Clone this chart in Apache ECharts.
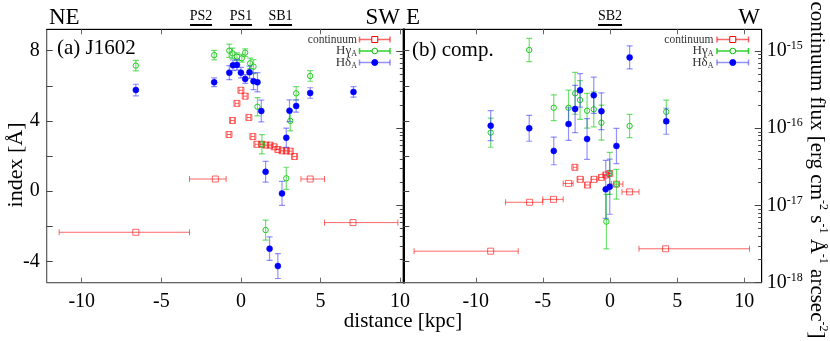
<!DOCTYPE html>
<html>
<head>
<meta charset="UTF-8">
<title>index vs distance</title>
<style type="text/css">
  html, body { margin: 0; padding: 0; background: #fff; }
  #main { width: 830px; height: 341px; }
</style>
</head>
<body>
<div id="main"></div>
<script src="https://cdn.jsdelivr.net/npm/echarts@6/dist/echarts.min.js"></script>
<script type="text/javascript">
// ---- (a) J1602 ----
var aContX   = [-6.60, -1.61, -0.75, -0.53, -0.25, 0.00, 0.27, 0.50, 0.75, 1.00, 1.32, 1.57, 1.84, 2.09, 2.32, 2.58, 2.85, 3.10, 3.37, 4.35, 7.04];
var aContXlo = [-11.42, -3.23, -0.87, -0.65, -0.37, -0.12, 0.15, 0.38, 0.63, 0.88, 1.20, 1.45, 1.72, 1.97, 2.20, 2.46, 2.73, 2.98, 3.25, 3.77, 5.25];
var aContXhi = [-3.23, -0.93, -0.63, -0.41, -0.13, 0.12, 0.39, 0.62, 0.87, 1.12, 1.44, 1.69, 1.96, 2.21, 2.44, 2.70, 2.97, 3.22, 3.49, 5.25, 9.86];
var aContF   = [4.5e-18, 2.2e-17, 8.3e-17, 1.26e-16, 2.1e-16, 3.1e-16, 2.6e-16, 1.38e-16, 7.8e-17, 6.2e-17, 6.2e-17, 6.05e-17, 6.05e-17, 5.75e-17, 5.3e-17, 5.1e-17, 5.1e-17, 5.05e-17, 4.3e-17, 2.2e-17, 6.0e-18];

var aGamX = [-6.60, -1.68, -0.73, -0.53, -0.25, 0.06, 0.27, 0.58, 0.79, 1.04, 1.32, 1.55, 2.85, 3.10, 3.47, 4.35];
var aGamY = [7.15, 7.75, 8.00, 7.85, 7.66, 7.57, 7.89, 7.28, 7.09, 4.81, 2.67, -2.22, 0.73, 4.00, 5.57, 6.56];
var aGamE = [0.30, 0.27, 0.38, 0.30, 0.22, 0.22, 0.22, 0.30, 0.40, 0.52, 0.55, 0.57, 0.63, 0.57, 0.38, 0.30];

var aDelX = [-6.60, -1.68, -0.73, -0.50, -0.25, 0.00, 0.27, 0.54, 0.79, 1.04, 1.28, 1.55, 1.80, 2.32, 2.58, 2.85, 3.05, 3.47, 4.35, 7.07];
var aDelY = [5.76, 6.20, 6.75, 7.17, 7.19, 6.75, 6.39, 6.77, 6.26, 6.20, 4.56, 1.10, -3.28, -4.27, -0.13, 3.04, 4.58, 4.85, 5.59, 5.65];
var aDelE = [0.33, 0.25, 0.40, 0.30, 0.30, 0.30, 0.25, 0.35, 0.48, 0.55, 0.62, 0.59, 0.67, 0.71, 0.68, 0.55, 0.62, 0.35, 0.30, 0.30];

// ---- (b) comp. ----
var bContX   = [-8.89, -5.99, -4.21, -3.09, -2.62, -2.23, -1.68, -1.19, -0.64, -0.32, -0.02, 0.48, 1.46, 4.14];
var bContXlo = [-14.60, -7.78, -5.01, -3.49, -2.75, -2.40, -1.85, -1.40, -0.82, -0.48, -0.15, 0.10, 0.89, 2.16];
var bContXhi = [-6.84, -5.01, -3.49, -2.75, -2.48, -2.00, -1.50, -0.98, -0.45, -0.15, 0.10, 0.96, 2.16, 10.39];
var bContF   = [2.56e-18, 1.10e-17, 1.20e-17, 1.93e-17, 3.12e-17, 2.18e-17, 1.84e-17, 2.18e-17, 2.31e-17, 2.48e-17, 2.60e-17, 1.89e-17, 1.50e-17, 2.75e-18];

var bGamX = [-8.89, -6.02, -4.19, -3.09, -2.60, -2.23, -1.71, -1.21, -0.64, -0.27, -0.02, 0.48, 1.46, 4.19];
var bGamY = [3.33, 8.04, 4.75, 4.75, 5.57, 5.19, 4.58, 4.66, 3.90, -1.74, 1.01, 0.39, 3.71, 4.52];
var bGamE = [0.83, 0.66, 0.73, 1.00, 1.19, 1.10, 0.99, 1.00, 1.00, 1.55, 1.20, 0.85, 0.66, 0.66];

var bDelX = [-8.89, -6.02, -4.19, -3.09, -2.60, -2.23, -1.71, -1.21, -0.64, -0.32, -0.02, 0.48, 1.46, 4.19];
var bDelY = [3.73, 3.58, 2.29, 3.82, 4.68, 5.74, 2.97, 5.46, 4.55, 0.10, 0.25, 2.57, 7.62, 3.98];
var bDelE = [0.85, 0.74, 0.79, 0.93, 1.35, 0.95, 1.16, 1.03, 1.05, 1.65, 1.57, 1.00, 0.66, 0.74];

// ticks
var xTicks = [-10, -5, 0, 5, 10];
var idxLabels = [-4, 0, 4, 8];
var idxTicks = [-4, -2, 0, 2, 4, 6, 8];
var fluxLabels = [1e-18, 1e-17, 1e-16, 1e-15];
var fluxMinor = [];
for (var e = -18; e <= -16; e++) {
  for (var k = 2; k <= 9; k++) fluxMinor.push(k * Math.pow(10, e));
}

var SERIF = "'Liberation Serif','DejaVu Serif',serif";
var RED = 'rgba(255,0,0,0.6)', GREEN = 'rgba(0,200,0,0.55)', BLUE = 'rgba(40,40,255,0.5)';

function zip(a, b, c, d) {
  return a.map(function (v, i) { return d ? [v, b[i], c[i], d[i]] : [v, b[i], c[i]]; });
}

// error bar + marker drawing
function drawCont(params, api) {
  var x = api.value(0), y = api.value(1);
  var c = api.coord([x, y]);
  var l = api.coord([api.value(2), y]), r = api.coord([api.value(3), y]);
  var st = { stroke: RED, lineWidth: 1 };
  return { type: 'group', children: [
    { type: 'line', shape: { x1: l[0], y1: c[1], x2: r[0], y2: c[1] }, style: st },
    { type: 'line', shape: { x1: l[0], y1: c[1] - 3, x2: l[0], y2: c[1] + 3 }, style: st },
    { type: 'line', shape: { x1: r[0], y1: c[1] - 3, x2: r[0], y2: c[1] + 3 }, style: st },
    { type: 'rect', shape: { x: c[0] - 3, y: c[1] - 3, width: 6, height: 6 }, style: { fill: 'none', stroke: RED, lineWidth: 1 } }
  ]};
}
function drawIdx(color, dot, filled) {
  return function (params, api) {
    var x = api.value(0), y = api.value(1), er = api.value(2);
    var c = api.coord([x, y]);
    var lo = api.coord([x, y - er]), hi = api.coord([x, y + er]);
    var st = { stroke: color, lineWidth: 1.2 };
    return { type: 'group', children: [
      { type: 'line', shape: { x1: c[0], y1: lo[1], x2: c[0], y2: hi[1] }, style: st },
      { type: 'line', shape: { x1: c[0] - 3, y1: lo[1], x2: c[0] + 3, y2: lo[1] }, style: st },
      { type: 'line', shape: { x1: c[0] - 3, y1: hi[1], x2: c[0] + 3, y2: hi[1] }, style: st },
      { type: 'circle', shape: { cx: c[0], cy: c[1], r: filled ? 3 : 2.7 },
        style: filled ? { fill: dot, stroke: dot, lineWidth: 0.5 } : { fill: 'none', stroke: dot, lineWidth: 1 } }
    ]};
  };
}

function xAx(grid, min, max, pos) {
  var bottom = pos === 'bottom';
  return {
    type: 'value', gridIndex: grid, position: pos, min: min, max: max,
    axisLine: { show: true, onZero: false, lineStyle: { color: bottom ? '#666' : '#000' } },
    axisTick: { show: true, inside: true, length: 5, customValues: xTicks, lineStyle: { color: '#666' } },
    axisLabel: { show: bottom, customValues: xTicks, margin: 9, color: '#000', fontFamily: SERIF, fontSize: 20 },
    splitLine: { show: false }
  };
}
function idxAx(grid, labels, lineColor, lineWidth) {
  return {
    type: 'value', gridIndex: grid, position: 'left', min: -5.22, max: 9.22,
    axisLine: { show: true, onZero: false, lineStyle: { color: lineColor, width: lineWidth } },
    axisTick: { show: true, inside: true, length: 6, customValues: idxTicks, lineStyle: { color: '#444' } },
    axisLabel: { show: labels, customValues: idxLabels, margin: 7, color: '#000', fontFamily: SERIF, fontSize: 20 },
    splitLine: { show: false }
  };
}
function fluxAx(grid, labels) {
  return {
    type: 'log', logBase: 10, gridIndex: grid, position: 'right', min: 1e-18, max: 1.91e-15,
    axisLine: { show: true, onZero: false, lineStyle: { color: '#000' } },
    axisTick: { show: true, inside: true, length: 7, customValues: fluxLabels, lineStyle: { color: '#444' } },
    axisLabel: {
      show: labels, customValues: fluxLabels, margin: 5, color: '#000',
      formatter: function (v) { return '{m|10}{s|' + Math.round(Math.log(v) / Math.LN10) + '}'; },
      rich: {
        m: { fontFamily: SERIF, fontSize: 20, lineHeight: 22, color: '#000' },
        s: { fontFamily: SERIF, fontSize: 12, lineHeight: 12, verticalAlign: 'top', color: '#000' }
      }
    },
    splitLine: { show: false }
  };
}
function fluxMinorAx(grid) {
  return {
    type: 'log', logBase: 10, gridIndex: grid, position: 'right', min: 1e-18, max: 1.91e-15,
    axisLine: { show: false, onZero: false },
    axisTick: { show: true, inside: true, length: 3.5, customValues: fluxMinor, lineStyle: { color: '#444' } },
    axisLabel: { show: false },
    splitLine: { show: false }
  };
}

// legend drawn as graphics (text + error-bar sample)
function legendItems(xr, x1, x2) {
  var items = [];
  var xm = (x1 + x2) / 2;
  var rows = [
    { y: 39.5, text: '{c|continuum}', kind: 'sq' },
    { y: 51, text: '{n|H}{s|γ}{ss|A}', kind: 'o' },
    { y: 62.5, text: '{n|H}{n|δ}{ss|A}', kind: 'dot' }
  ];
  rows.forEach(function (r) {
    items.push({ type: 'text', x: xr, y: r.y, style: {
      text: r.text, align: 'right', verticalAlign: 'middle', fill: '#333',
      rich: {
        c: { fontFamily: SERIF, fontSize: 11.5, fill: '#333' },
        n: { fontFamily: SERIF, fontSize: 13, fill: '#333', lineHeight: 14 },
        s: { fontFamily: SERIF, fontSize: 13, fill: '#333', lineHeight: 14 },
        ss: { fontFamily: SERIF, fontSize: 8, fill: '#333', lineHeight: 8, verticalAlign: 'bottom' }
      }
    }});
    var lc = r.kind === 'sq' ? RED : (r.kind === 'o' ? 'rgba(0,200,0,0.8)' : BLUE);
    items.push({ type: 'line', shape: { x1: x1, y1: r.y, x2: x2, y2: r.y }, style: { stroke: lc, lineWidth: 1.5 } });
    items.push({ type: 'line', shape: { x1: x1, y1: r.y - 3, x2: x1, y2: r.y + 3 }, style: { stroke: lc, lineWidth: 1.5 } });
    items.push({ type: 'line', shape: { x1: x2, y1: r.y - 3, x2: x2, y2: r.y + 3 }, style: { stroke: lc, lineWidth: 1.5 } });
    if (r.kind === 'sq') {
      items.push({ type: 'rect', shape: { x: xm - 3, y: r.y - 3, width: 6, height: 6 }, style: { fill: '#fff', stroke: 'red', lineWidth: 1 } });
    } else if (r.kind === 'o') {
      items.push({ type: 'circle', shape: { cx: xm, cy: r.y, r: 2.8 }, style: { fill: '#fff', stroke: '#00c000', lineWidth: 1 } });
    } else {
      items.push({ type: 'circle', shape: { cx: xm, cy: r.y, r: 3 }, style: { fill: '#0000ff', stroke: '#0000ff' } });
    }
  });
  return items;
}

function topText(x, text, size, align) {
  return { type: 'text', x: x, y: 18, style: { text: text, align: align || 'left', verticalAlign: 'middle', font: size + 'px ' + SERIF, fill: '#000' } };
}
function region(x1, x2, text) {
  return [
    { type: 'text', x: (x1 + x2) / 2, y: 16, style: { text: text, align: 'center', verticalAlign: 'middle', font: '14px ' + SERIF, fill: '#000' } },
    { type: 'line', shape: { x1: x1, y1: 25, x2: x2, y2: 25 }, style: { stroke: '#000', lineWidth: 2 } }
  ];
}

var graphics = [
  topText(49, 'NE', 23), topText(400, 'SW', 23, 'right'),
  topText(406, 'E', 23), topText(760, 'W', 23, 'right'),
  { type: 'text', x: 57, y: 48, style: { text: '(a) J1602', verticalAlign: 'middle', font: '21px ' + SERIF, fill: '#000' } },
  { type: 'text', x: 412, y: 50, style: { text: '(b) comp.', verticalAlign: 'middle', font: '21px ' + SERIF, fill: '#000' } },
  { type: 'text', x: 16, y: 165, rotation: Math.PI / 2, style: { text: 'index [Å]', align: 'center', verticalAlign: 'middle', font: '22px ' + SERIF, fill: '#000' } },
  { type: 'text', x: 403, y: 321, style: { text: 'distance [kpc]', align: 'center', verticalAlign: 'middle', font: '21px ' + SERIF, fill: '#000' } },
  { type: 'text', x: 817, y: 170, rotation: -Math.PI / 2, style: {
    text: '{a|continuum flux [erg cm}{s|-2}{a| s}{s|-1}{a| Å}{s|-1}{a| arcsec}{s|-2}{a|]}',
    align: 'center', verticalAlign: 'middle',
    rich: {
      a: { fontFamily: SERIF, fontSize: 21, lineHeight: 24, fill: '#000' },
      s: { fontFamily: SERIF, fontSize: 12, lineHeight: 12, verticalAlign: 'top', fill: '#000' }
    }
  }}
].concat(region(190, 212, 'PS2'), region(230, 252, 'PS1'), region(269, 292, 'SB1'), region(598, 622, 'SB2'),
  legendItems(357, 359.5, 390), legendItems(713.5, 717, 748.5));

var myChart = echarts.init(document.getElementById('main'), null, { renderer: 'canvas' });
var option = {
  animation: false,
  backgroundColor: '#fff',
  grid: [
    { left: 46.7, top: 29.3, width: 356.6, height: 253.4, show: true, borderColor: '#000', borderWidth: 1, outerBoundsMode: 'none' },
    { left: 403.3, top: 29.3, width: 358.4, height: 253.4, show: true, borderColor: '#000', borderWidth: 1, outerBoundsMode: 'none' }
  ],
  xAxis: [
    xAx(0, -12.2, 10.2, 'bottom'),
    xAx(1, -15.4, 11.3, 'bottom'),
    xAx(0, -12.2, 10.2, 'top'),
    xAx(1, -15.4, 11.3, 'top')
  ],
  yAxis: [
    idxAx(0, true, '#666', 1),
    fluxAx(0, false),
    fluxMinorAx(0),
    idxAx(1, false, '#000', 2),
    fluxAx(1, true),
    fluxMinorAx(1)
  ],
  series: [
    { type: 'custom', name: 'continuum', xAxisIndex: 0, yAxisIndex: 1, clip: true, encode: { x: 0, y: 1 },
      renderItem: drawCont, data: zip(aContX, aContF, aContXlo, aContXhi) },
    { type: 'custom', name: 'HγA', xAxisIndex: 0, yAxisIndex: 0, clip: true, encode: { x: 0, y: 1 },
      renderItem: drawIdx(GREEN, '#22cc22', false), data: zip(aGamX, aGamY, aGamE) },
    { type: 'custom', name: 'HδA', xAxisIndex: 0, yAxisIndex: 0, clip: true, encode: { x: 0, y: 1 },
      renderItem: drawIdx(BLUE, '#0000ff', true), data: zip(aDelX, aDelY, aDelE) },
    { type: 'custom', name: 'continuum', xAxisIndex: 1, yAxisIndex: 4, clip: true, encode: { x: 0, y: 1 },
      renderItem: drawCont, data: zip(bContX, bContF, bContXlo, bContXhi) },
    { type: 'custom', name: 'HγA', xAxisIndex: 1, yAxisIndex: 3, clip: true, encode: { x: 0, y: 1 },
      renderItem: drawIdx(GREEN, '#22cc22', false), data: zip(bGamX, bGamY, bGamE) },
    { type: 'custom', name: 'HδA', xAxisIndex: 1, yAxisIndex: 3, clip: true, encode: { x: 0, y: 1 },
      renderItem: drawIdx(BLUE, '#0000ff', true), data: zip(bDelX, bDelY, bDelE) }
  ],
  graphic: graphics
};
myChart.setOption(option);
</script>
</body>
</html>
